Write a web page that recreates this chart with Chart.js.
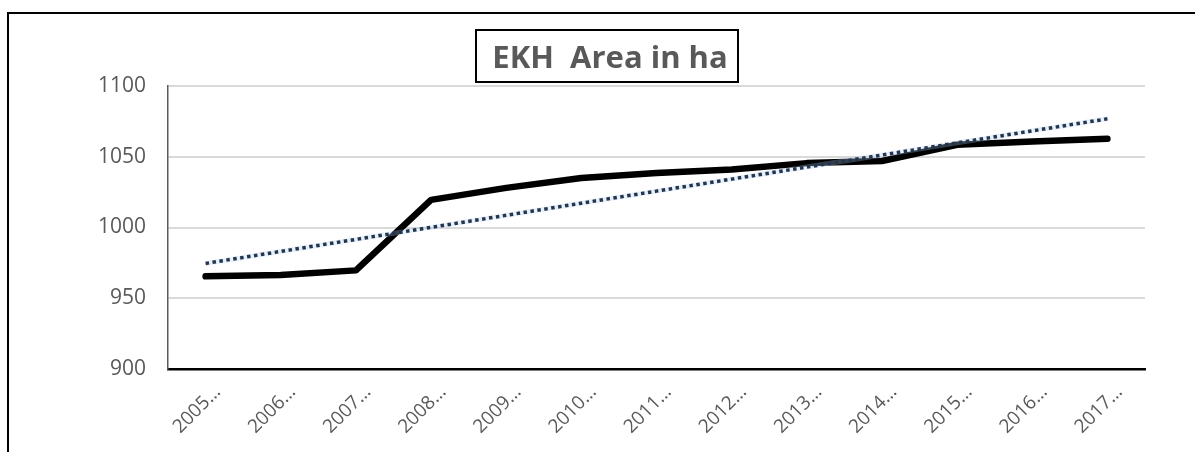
<!DOCTYPE html>
<html>
<head>
<meta charset="utf-8">
<script src="https://cdn.jsdelivr.net/npm/chart.js@4/dist/chart.umd.min.js"></script>
<style>
  html, body { margin: 0; padding: 0; background: #ffffff; }
  #wrap { position: relative; width: 1195px; height: 452px; overflow: hidden; background: #ffffff; }
  #frame { position: absolute; left: 7px; top: 12px; width: 1300px; height: 600px; border: 2px solid #000000; box-sizing: border-box; pointer-events: none; }
  canvas { position: absolute; left: 0; top: 0; }
</style>
</head>
<body>
<div id="wrap">
  <canvas id="c" width="1195" height="452"></canvas>
  <div id="frame"></div>
</div>
<script>
const titleText = "EKH  Area in ha";
const categories = ["2005…", "2006…", "2007…", "2008…", "2009…", "2010…", "2011…", "2012…", "2013…", "2014…", "2015…", "2016…", "2017…"];
const areaValues = [965.5, 966.5, 969.7, 1019.5, 1028, 1035, 1038.5, 1041, 1045.5, 1047, 1058.5, 1060.8, 1062.7];
const trendValues = [974.6, 983.1, 991.6, 1000.1, 1008.6, 1017.2, 1025.7, 1034.2, 1042.7, 1051.2, 1059.8, 1068.3, 1076.8];
const yMin = 900, yMax = 1100, yStep = 50;

const textGray = "#595959";

const titleBoxPlugin = {
  id: "titleBox",
  afterDraw(chart) {
    const ctx = chart.ctx;
    ctx.save();
    const bx = 476, by = 30, bw = 262, bh = 52;
    ctx.fillStyle = "#ffffff";
    ctx.fillRect(bx, by, bw, bh);
    ctx.lineWidth = 2;
    ctx.strokeStyle = "#000000";
    ctx.strokeRect(bx, by, bw, bh);
    ctx.fillStyle = textGray;
    ctx.font = "bold 31px 'Open Sans'";
    ctx.textAlign = "center";
    ctx.textBaseline = "alphabetic";
    ctx.fillText(titleText, bx + bw / 2 + 3, 68);
    ctx.restore();
  }
};

new Chart(document.getElementById("c"), {
  type: "line",
  data: {
    labels: categories,
    datasets: [
      {
        label: "Linear trend",
        data: trendValues,
        borderColor: "#27344f",
        borderWidth: 3.5,
        borderDash: [3.5, 3.5],
        pointRadius: 0,
        fill: false,
        tension: 0,
        order: 0
      },
      {
        label: "trend halo",
        data: trendValues,
        borderColor: "rgba(175,210,238,0.3)",
        borderWidth: 5,
        pointRadius: 0,
        fill: false,
        tension: 0,
        order: 1
      },
      {
        label: "EKH Area in ha",
        data: areaValues,
        borderColor: "#000000",
        borderWidth: 6.5,
        borderJoinStyle: "round",
        borderCapStyle: "round",
        pointRadius: 0,
        fill: false,
        tension: 0,
        order: 2
      }
    ]
  },
  options: {
    responsive: false,
    devicePixelRatio: 1,
    animation: false,
    layout: { padding: { top: 86, right: 50, left: 0, bottom: 0 } },
    plugins: {
      legend: { display: false },
      title: { display: false },
      tooltip: { enabled: false }
    },
    scales: {
      x: {
        offset: true,
        grid: { display: false, drawTicks: false },
        border: { display: true, color: "#000000", width: 2.5 },
        ticks: {
          color: textGray,
          font: { family: "'Open Sans'", size: 19 },
          minRotation: 45,
          maxRotation: 45,
          padding: 12,
          labelOffset: 12,
          autoSkip: false
        },
        afterFit(scale) { scale.height = 83; }
      },
      y: {
        min: yMin,
        max: yMax,
        ticks: {
          stepSize: yStep,
          color: textGray,
          font: { family: "'Open Sans'", size: 21 },
          padding: 22,
          callback: (v) => String(v)
        },
        grid: {
          drawTicks: false,
          color: (c) => (c.tick && c.tick.value === yMin) ? "rgba(0,0,0,0)" : "#d9d9d9",
          lineWidth: 2
        },
        border: { display: true, color: "#595959", width: 1.5 },
        afterFit(scale) { scale.width = 168; }
      }
    }
  },
  plugins: [titleBoxPlugin]
});
</script>
</body>
</html>
